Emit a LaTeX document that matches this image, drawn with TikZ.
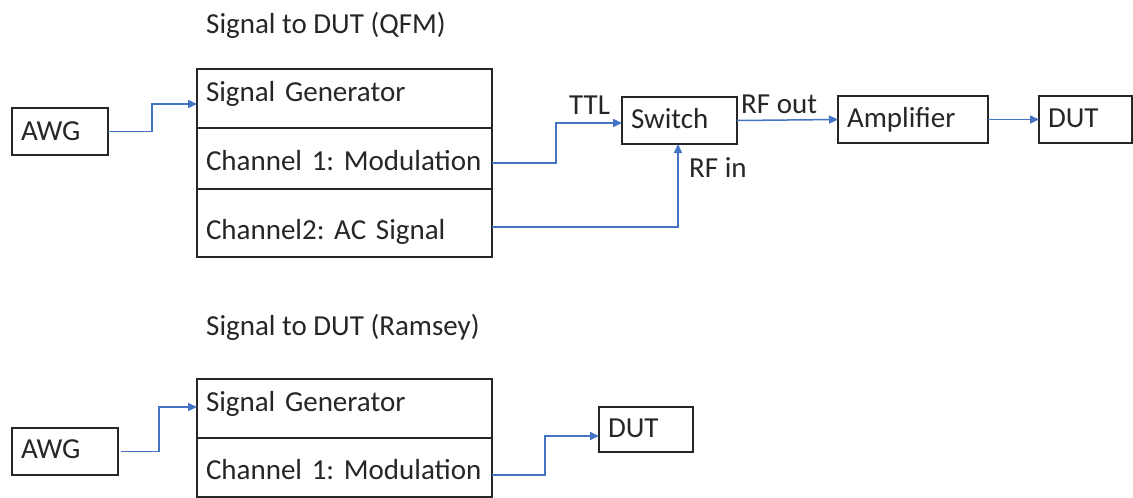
\documentclass[tikz,border=0pt]{standalone}
\usepackage{fontspec}
\setmainfont{Carlito}
\usetikzlibrary{arrows.meta}
\definecolor{wireblue}{HTML}{4472C4}
\frenchspacing

\begin{document}
\begin{tikzpicture}[x=1pt, y=-1pt, font=\fontsize{29}{34}\selectfont, text=black!85,
  >={Triangle[length=9pt,width=8pt]},
  box/.style 2 args={draw=black!85, line width=1.2pt, anchor=north west, outer sep=0pt, align=left,
    inner xsep=9pt, inner ysep=0pt, text height=22pt, text depth=6pt,
    minimum width=#1, text width={#1-18pt}, minimum height=#2},
  wire/.style={->, draw=wireblue, line width=1.5pt},
  lbl/.style={inner sep=0pt, anchor=base west}]
  \useasboundingbox (0,0) rectangle (1133,498);
  % QFM
  \node[lbl] (t1) at (206,33) {Signal to DUT (QFM)};
  \node[box={96pt}{47pt}, text height=24pt]  (awg1) at (12,108)  {AWG};
  \node[box={295pt}{59pt}, text height=12pt] (sg1a) at (197,69)  {Signal Generator};
  \node[box={295pt}{61pt}, text height=30pt] (sg1b) at (197,128) {Channel 1: Modulation};
  \node[box={295pt}{68pt}, text height=38pt] (sg1c) at (197,189) {Channel2: AC Signal};
  \node[box={115pt}{47pt}] (sw)   at (622,97)  {Switch};
  \node[box={150pt}{47pt}] (amp)  at (838,96)  {Amplifier};
  \node[box={93pt}{47pt}]  (dut1) at (1039,96) {DUT};
  \node[lbl] (ttl)   at (569,114) {TTL};
  \node[lbl] (rfout) at (741,113) {RF out};
  \node[lbl] (rfin)  at (689,177) {RF in};
  \draw[wire] (awg1.east) -- ++(44,0) |- ([yshift=-5.5pt]sg1a.west);
  \draw[wire] ([yshift=-4.5pt]sg1b.east) -- ++(64,0) |- ([yshift=-2.5pt]sw.west);
  \draw[wire] ([yshift=-4pt]sg1c.east) -| ([xshift=-1.5pt]sw.south);
  \draw[wire] (sw.east) -- (amp.west);
  \draw[wire] (amp.east) -- (dut1.west);
  % Ramsey
  \node[lbl] (t2) at (206,335) {Signal to DUT (Ramsey)};
  \node[box={106pt}{47pt}, text height=20pt] (awg2) at (12,428)  {AWG};
  \node[box={295pt}{59pt}, text height=12pt] (sg2a) at (197,379) {Signal Generator};
  \node[box={295pt}{59pt}, text height=30pt] (sg2b) at (197,438) {Channel 1: Modulation};
  \node[box={94pt}{45pt}, text height=21pt]  (dut2) at (599,407) {DUT};
  \draw[wire] ([xshift=3pt]awg2.east) -- ++(38,0) |- ([yshift=1.5pt]sg2a.west);
  \draw[wire] ([yshift=-7.5pt]sg2b.east) -- ++(53,0) |- ([yshift=-6.5pt]dut2.west);
\end{tikzpicture}
\end{document}
